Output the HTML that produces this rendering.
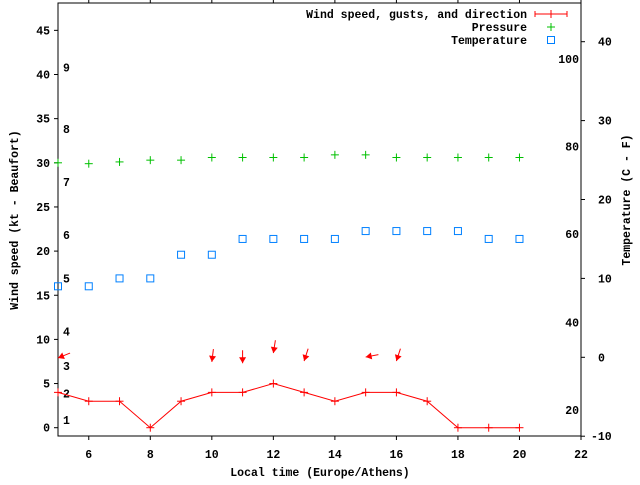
<!DOCTYPE html>
<html><head><meta charset="utf-8"><style>
html,body{margin:0;padding:0;background:#fff}
svg text{font-family:"Liberation Mono",monospace;font-weight:bold;font-size:11.5px;fill:#000}
</style></head><body>
<svg id="chart" width="640" height="480" xmlns="http://www.w3.org/2000/svg"></svg>
<script>
const hours = [5,6,7,8,9,10,11,12,13,14,15,16,17,18,19,20];
const windSpeed = [4,3,3,0,3,4,4,5,4,3,4,4,3,0,0,0];
const pressure = [30.0,29.9,30.1,30.3,30.3,30.6,30.6,30.6,30.6,30.9,30.9,30.6,30.6,30.6,30.6,30.6];
const temperature = [9,9,10,10,13,13,15,15,15,15,16,16,16,16,15,15];
const arrowHours = [5,10,11,12,13,15,16];
const arrowHeadY = [7.9,7.45,7.3,8.45,7.55,8.0,7.55];
const arrowBearing = [248,187,180,189,198,259,198];
const xTicks = [6,8,10,12,14,16,18,20,22];
const yTicks = [0,5,10,15,20,25,30,35,40,45];
const y2Ticks = [-10,0,10,20,30,40];
const beaufortLabels = ["1","2","3","4","5","6","7","8","9"];
const beaufortY = [0.9,3.9,7.0,10.9,16.9,21.8,27.8,33.8,40.8];
const fahrenheitLabels = ["20","40","60","80","100"];
const fahrenheitC = [-6.7,4.4,15.6,26.7,37.8];

const L=58,R=581,T=3,B=436;
const X=h=>L+(h-5)*(R-L)/17;
const Y=v=>427.7-v*8.83;
const Y2=c=>357.3-c*7.89;
const svg=document.getElementById('chart');
const NS='http://www.w3.org/2000/svg';
function mk(tag,attrs,parent){const e=document.createElementNS(NS,tag);for(const k in attrs)e.setAttribute(k,attrs[k]);(parent||svg).appendChild(e);return e;}

// frame
let f=mk('rect',{x:L,y:T,width:R-L,height:B-T,fill:'none',stroke:'#000','stroke-width':1});



xTicks.forEach(h=>{
  mk('line',{x1:X(h),x2:X(h),y1:B,y2:B+4,stroke:'#000'});
  mk('line',{x1:X(h),x2:X(h),y1:T,y2:T-4,stroke:'#000'});
  const t=mk('text',{x:X(h),y:B+22,'text-anchor':'middle'});t.textContent=h;
  
  
});
yTicks.forEach(v=>{
  mk('line',{x1:L-4,x2:L,y1:Y(v),y2:Y(v),stroke:'#000'});
  const t=mk('text',{x:50,y:Y(v)+4,'text-anchor':'end'});t.textContent=v;
  
  
});
y2Ticks.forEach(v=>{
  mk('line',{x1:R,x2:R+4,y1:Y2(v),y2:Y2(v),stroke:'#000'});
  const t=mk('text',{x:v<0?591:598,y:Y2(v)+4});t.textContent=v;
  
  
});
beaufortLabels.forEach((s,i)=>{
  const t=mk('text',{x:63,y:Y(beaufortY[i])+4});t.textContent=s;
  
  
});
fahrenheitLabels.forEach((s,i)=>{
  const t=mk('text',{x:579,y:Y2(fahrenheitC[i])+4,'text-anchor':'end'});t.textContent=s;
  
  
});

// axis titles
let t=mk('text',{x:320,y:476,'text-anchor':'middle'});t.textContent='Local time (Europe/Athens)';


t=mk('text',{x:0,y:0,'text-anchor':'middle',transform:'translate(18,220) rotate(-90)'});t.textContent='Wind speed (kt - Beaufort)';


t=mk('text',{x:0,y:0,'text-anchor':'middle',transform:'translate(630,200) rotate(-90)'});t.textContent='Temperature (C - F)';



function plus(cx,cy,col,s){mk('line',{x1:cx-s,x2:cx+s,y1:cy,y2:cy,stroke:col});mk('line',{x1:cx,x2:cx,y1:cy-s,y2:cy+s,stroke:col});}

// pressure
pressure.forEach((p,i)=>{
  const g=mk('g',{});
  
  
  mk('line',{x1:X(hours[i])-4,x2:X(hours[i])+4,y1:Y(p),y2:Y(p),stroke:'#00c000'},g);
  mk('line',{x1:X(hours[i]),x2:X(hours[i]),y1:Y(p)-4,y2:Y(p)+4,stroke:'#00c000'},g);
});
// temperature
temperature.forEach((c,i)=>{
  const r=mk('rect',{x:X(hours[i])-3.5,y:Y2(c)-3.5,width:7,height:7,fill:'none',stroke:'#0080ff'});
  
  
});
// wind line
const pl=mk('polyline',{points:hours.map((h,i)=>X(h)+','+Y(windSpeed[i])).join(' '),fill:'none',stroke:'#f00'});


windSpeed.forEach((w,i)=>{
  const g=mk('g',{});
  
  
  mk('line',{x1:X(hours[i])-4,x2:X(hours[i])+4,y1:Y(w),y2:Y(w),stroke:'#f00'},g);
  mk('line',{x1:X(hours[i]),x2:X(hours[i]),y1:Y(w)-4,y2:Y(w)+4,stroke:'#f00'},g);
});
// direction arrows
arrowHours.forEach((h,i)=>{
  const a=arrowBearing[i]*Math.PI/180, dx=Math.sin(a), dy=-Math.cos(a);
  const hx=X(h), hy=Y(arrowHeadY[i]), len=13;
  const g=mk('g',{});
  
  
  mk('line',{x1:hx-dx*len,y1:hy-dy*len,x2:hx,y2:hy,stroke:'#f00'},g);
  const bx=hx-dx*6, by=hy-dy*6, px=-dy*3.5, py=dx*3.5;
  mk('polygon',{points:`${hx},${hy} ${bx+px},${by+py} ${bx-px},${by-py}`,fill:'#f00'},g);
});

// legend
const lg=mk('g',{});


[['Wind speed, gusts, and direction',14],['Pressure',27],['Temperature',40]].forEach(([s,y])=>{
  const tt=mk('text',{x:527,y:y+4,'text-anchor':'end'},lg);tt.textContent=s;
  
  
});
mk('line',{x1:535,x2:567,y1:14,y2:14,stroke:'#f00'},lg);
mk('line',{x1:535,x2:535,y1:11,y2:17,stroke:'#f00'},lg);
mk('line',{x1:567,x2:567,y1:11,y2:17,stroke:'#f00'},lg);
mk('line',{x1:551,x2:551,y1:10,y2:18,stroke:'#f00'},lg);
plus(551,27,'#00c000',4);
mk('rect',{x:547.5,y:36.5,width:7,height:7,fill:'none',stroke:'#0080ff'},lg);
</script>
</body></html>
